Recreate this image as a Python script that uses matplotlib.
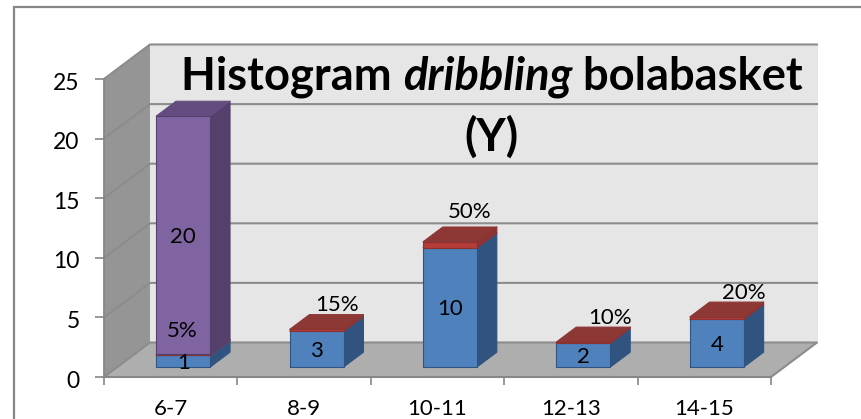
import matplotlib
matplotlib.use("Agg")
import matplotlib.pyplot as plt
from matplotlib.patches import Polygon, Rectangle
from matplotlib.transforms import ScaledTranslation

plt.rcParams["font.family"] = ["Lato", "DejaVu Sans"]

# Data
categories = ["6-7", "8-9", "10-11", "12-13", "14-15"]
counts = [1, 3, 10, 2, 4]
shares = [0.05, 0.15, 0.50, 0.10, 0.20]
extra = [20, 0, 0, 0, 0]
y_ticks = [0, 5, 10, 15, 20, 25]

# Figure geometry, in pixels
W, H = 862, 419
LEFT, RIGHT, TOP, BOTTOM = 104, 771, 79, 377
DEPTH_PX = (46, 34.5)

fig = plt.figure(figsize=(W / 100, H / 100), dpi=100, facecolor="white")
ax = fig.add_axes([LEFT / W, 1 - BOTTOM / H, (RIGHT - LEFT) / W, (BOTTOM - TOP) / H])
ax.set_xlim(0, len(categories))
ax.set_ylim(0, 25)
ax.patch.set_visible(False)

ux = (RIGHT - LEFT) / len(categories)
uy = (BOTTOM - TOP) / 25
DX, DY = DEPTH_PX[0] / ux, DEPTH_PX[1] / uy


def proj(cat, val, depth=0.0):
    """Oblique projection: depth 0 is the front plane, 1 the back wall."""
    return (cat + depth * DX, val + depth * DY)


def face(points, color, edge=None, lw=0.8, z=1):
    ax.add_patch(Polygon(points, closed=True, facecolor=color,
                         edgecolor=edge if edge else color, linewidth=lw,
                         clip_on=False, zorder=z, joinstyle="round"))


# Chart box
box = "#868686"
fig.add_artist(Rectangle((14 / W, -0.1), 1.2, 1 - 7 / H + 0.1, transform=fig.transFigure,
                         facecolor="none", edgecolor=box, linewidth=1.6))

# Walls and floor
n = len(categories)
face([proj(0, 0), proj(0, 25), proj(0, 25, 1), proj(0, 0, 1)], "#959595", z=1)
face([proj(0, 0, 1), proj(0, 25, 1), proj(n, 25, 1), proj(n, 0, 1)], "#E6E6E6", z=1)
face([proj(0, 0), proj(n, 0), proj(n, 0, 1), proj(0, 0, 1)], "#AEAEAE", z=1)

# Gridlines run along the side wall and across the back wall
grid = "#8C8C8C"
for v in y_ticks:
    xs, ys = zip(proj(0, v), proj(0, v, 1), proj(n, v, 1))
    if v == 0:
        xs, ys = zip(proj(0, v), proj(0, v, 1), proj(n, v, 1), proj(n, v))
    ax.plot(xs, ys, color=grid, lw=1.5, clip_on=False, zorder=2, solid_joinstyle="round")
ax.plot(*zip(proj(0, 0), proj(n, 0)), color=grid, lw=1.5, clip_on=False, zorder=2)

# Stacked 3-D bars
BAR_W = 0.405
BAR_SHIFT = -0.006
D0, D1 = 0.29, 0.72
palette = [
    ("#4F81BD", "#30537F", "#3F6797"),
    ("#B43C39", "#8C3230", "#8E3836"),
    ("#8064A2", "#54406C", "#654C80"),
]


def prism(cat, v0, v1, colors, z):
    front, side, top = colors
    x0 = cat + 0.5 + BAR_SHIFT - BAR_W / 2
    x1 = cat + 0.5 + BAR_SHIFT + BAR_W / 2
    edge = side
    face([proj(x1, v0, D0), proj(x1, v1, D0), proj(x1, v1, D1), proj(x1, v0, D1)],
         side, edge, 0.8, z)
    face([proj(x0, v1, D0), proj(x1, v1, D0), proj(x1, v1, D1), proj(x0, v1, D1)],
         top, top, 0.8, z)
    face([proj(x0, v0, D0), proj(x1, v0, D0), proj(x1, v1, D0), proj(x0, v1, D0)],
         front, edge, 0.8, z)


for i in range(n):
    z = 3 + i * 0.01
    base = 0
    for series, colors in zip((counts, shares, extra), palette):
        if series[i] > 0:
            prism(i, base, base + series[i], colors, z)
            base += series[i]

# Labels: counts sit on the front face, shares float above the bar
LABEL_SIZE = 16
share_offsets = [(-1, 24), (20, 25), (20, 33), (27, 25), (27, 25)]


def label(i, v0, v1, text, off=(0, -2)):
    x, y = proj(i + 0.5 + BAR_SHIFT, (v0 + v1) / 2, D0)
    ax.annotate(text, (x, y), xytext=(off[0] * 0.72, off[1] * 0.72), textcoords="offset points",
                ha="center", va="center", fontsize=LABEL_SIZE, color="black",
                annotation_clip=False, zorder=6)


for i in range(n):
    label(i, 0, counts[i], str(counts[i]))
    label(i, counts[i], counts[i] + shares[i], f"{round(shares[i] * 100)}%", share_offsets[i])
    if extra[i] > 0:
        top = counts[i] + shares[i]
        label(i, top, top + extra[i], str(extra[i]))

# Axes, ticks and tick labels
for s in ("top", "right"):
    ax.spines[s].set_visible(False)
for s in ("left", "bottom"):
    ax.spines[s].set_color(box)
    ax.spines[s].set_linewidth(1.2)
ax.set_yticks(y_ticks)
ax.set_xticks(range(n + 1))
ax.set_xticks([i + 0.5 for i in range(n)], labels=categories, minor=True)
ax.set_xticklabels([])
ax.tick_params(axis="y", length=6.5, width=1.2, color=box, pad=11, labelsize=16.5)
ax.tick_params(axis="x", which="major", length=6, width=1.2, color=box)
ax.tick_params(axis="x", which="minor", length=0, pad=16, labelsize=16)
nudge = ScaledTranslation(0, -2 / 100, fig.dpi_scale_trans)
for tick_label in ax.get_yticklabels():
    tick_label.set_transform(tick_label.get_transform() + nudge)

# Title: mixed bold and bold-italic runs on one baseline
TITLE_SIZE = 32.6
fig.canvas.draw()
renderer = fig.canvas.get_renderer()
runs = [("Histogram ", "normal"), ("dribbling", "italic"), (" bolabasket", "normal")]
items = []
total = 0
for text, style in runs:
    t = fig.text(0, 1 - 90 / H, text.replace(" ", "\u00a0"), fontsize=TITLE_SIZE,
                 fontweight="bold", fontstyle=style, va="baseline", ha="left",
                 color="black", zorder=7)
    w = t.get_window_extent(renderer).width
    items.append((t, w))
    total += w
cursor = 492 - total / 2
for t, w in items:
    t.set_x(cursor / W)
    cursor += w
fig.text(491 / W, 1 - 151 / H, "(Y)", fontsize=TITLE_SIZE, fontweight="bold",
         va="baseline", ha="center", color="black", zorder=7)

fig.savefig("out.png", dpi=100)
